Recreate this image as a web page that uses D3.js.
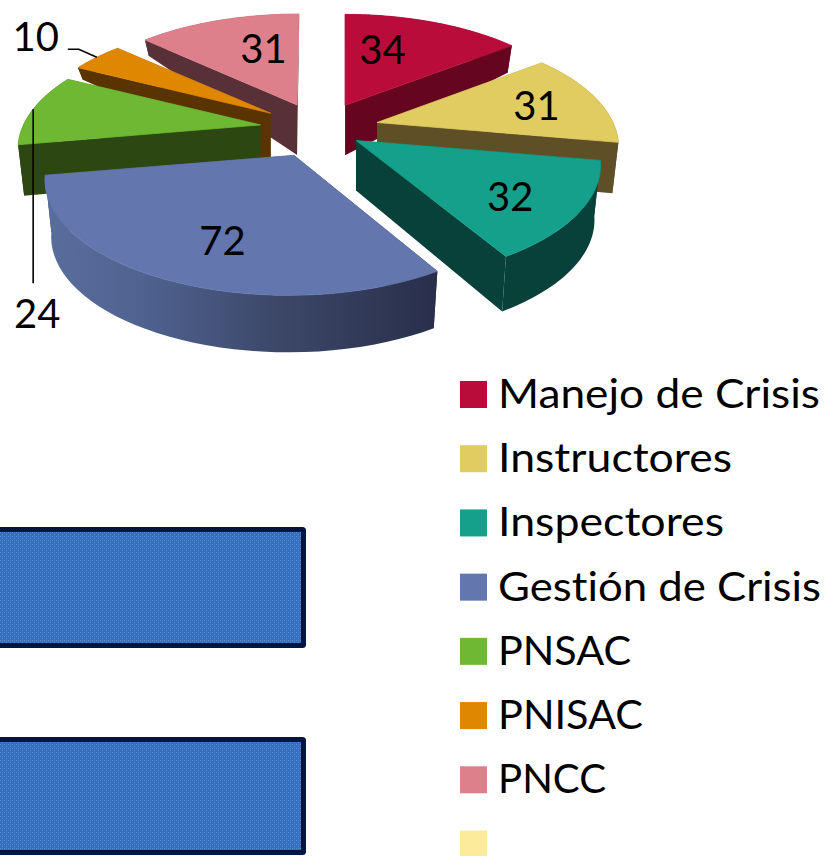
<!DOCTYPE html>
<html>
<head>
<meta charset="utf-8">
<script src="https://cdnjs.cloudflare.com/ajax/libs/d3/7.8.5/d3.min.js"></script>
<style>
html, body { margin: 0; padding: 0; background: #fff; overflow: hidden; }
text { font-family: Lato, "Open Sans", sans-serif; fill: #000; font-variant-ligatures: none; }
</style>
</head>
<body>
<div id="chart"></div>
<script>
// values
const categories = ["Manejo de Crisis", "Instructores", "Inspectores", "Gestión de Crisis", "PNSAC", "PNISAC", "PNCC", ""];
const values = [34, 31, 32, 72, 24, 10, 31, 0];
const topColors = ["#b90c3b", "#e0cc60", "#14a08a", "#6377ae", "#6fb833", "#e08700", "#dd808c", "#fdeb9c"];
const sideColors = ["#66051f", "#5e4f27", "#07413a", "url(#wallGrad)", "#2c4712", "#5a3400", "#583038", "#000"];

// how far each slice is pulled out, wall height at the rim, sideways lean of the rim
const explode = [0.25, 0.25, 0.18, 0.25, 0.255, 0.26, 0.25, 0];
const rimDepth = [27, 51, 55, 57, 51, 12, 16, 0];
const lean = [0, -2, 1, -5.5, 1, 1, 2, 0];
const apexDepth = 50;

// label placement: radius along the mid angle + shift in px
const labelR = [0.6, 0.6, 0.6, 0.6, 1, 1, 0.6];
const labelShift = [[-19, -2], [26, -1], [27, 16], [-1, 18], [4, 205], [-61, -20], [17, -2]];

// the legend font is narrower than the original, so stretch to the measured widths
const legendWidths = [322, 234, 226, 323, 133, 145, 108, 0];

const w = 826, h = 856;
const cx = 320, cy = 129;
const rx = 238, ry = 110.3, persp = 0.212;

const svg = d3.select("#chart").append("svg")
  .attr("width", w)
  .attr("height", h)
  .style("display", "block");

const defs = svg.append("defs");

// shading on the big front wall
const grad = defs.append("linearGradient")
  .attr("id", "wallGrad")
  .attr("gradientUnits", "userSpaceOnUse")
  .attr("x1", 45).attr("x2", 435).attr("y1", 0).attr("y2", 0);
[["0", "#5a6e9e"], ["0.25", "#4f6290"], ["0.6", "#3c4768"], ["1", "#292f4b"]].forEach(s => {
  grad.append("stop").attr("offset", s[0]).attr("stop-color", s[1]);
});

// dithered fill of the two boxes
const pat = defs.append("pattern")
  .attr("id", "dither")
  .attr("patternUnits", "userSpaceOnUse")
  .attr("width", 4).attr("height", 4);
pat.append("rect").attr("width", 4).attr("height", 4).attr("fill", "#336fbc");
pat.append("rect").attr("x", 0).attr("y", 0).attr("width", 1).attr("height", 1).attr("fill", "#5c8fd2");
pat.append("rect").attr("x", 2).attr("y", 2).attr("width", 1).attr("height", 1).attr("fill", "#5c8fd2");
pat.append("rect").attr("x", 2).attr("y", 0).attr("width", 1).attr("height", 1).attr("fill", "#4a82c9");

// boxes behind, they run off the left and bottom edge
svg.selectAll("rect.box")
  .data([[527, 121], [737, 118]])
  .enter()
  .append("rect")
  .attr("class", "box")
  .attr("x", -10)
  .attr("y", d => d[0] + 2.5)
  .attr("width", 313.5)
  .attr("height", d => d[1] - 5)
  .attr("rx", 1)
  .attr("fill", "url(#dither)")
  .attr("stroke", "#00153f")
  .attr("stroke-width", 5);

// angle (clockwise from top) and radius to screen offset, with perspective
function project(a, r) {
  const X = r * Math.sin(a);
  const Y = -r * Math.cos(a);
  const f = 1 / (1 - persp * Y);
  return [rx * X * f, ry * Y * f];
}

const pie = d3.pie().sort(null).value(d => d).startAngle(0).endAngle(2 * Math.PI);
const arcs = pie(values).map((d, i) => {
  const mid = (d.startAngle + d.endAngle) / 2;
  const off = project(mid, explode[i]);
  return { i, mid, start: d.startAngle, end: d.endAngle, value: d.value, ax: cx + off[0], ay: cy + off[1] };
});

const line = d3.line();

function topPt(s, a, r) {
  const p = project(a, r);
  return [s.ax + p[0] + lean[s.i] * r, s.ay + p[1]];
}
function lowPt(s, a, r) {
  const p = project(a, r);
  return [s.ax + (p[0] + lean[s.i] * r) * 0.975, s.ay + p[1] + apexDepth + (rimDepth[s.i] - apexDepth) * r];
}
function rimAngles(s) {
  return d3.range(0, 41).map(k => s.start + (s.end - s.start) * k / 40);
}

// back slices first
const drawOrder = [0, 6, 5, 4, 1, 2, 3];
const pieG = svg.append("g");

drawOrder.forEach(i => {
  const s = arcs[i];
  const rim = rimAngles(s);
  const g = pieG.append("g");
  const side = sideColors[i];
  const cutColor = i === 3 ? "#292f4b" : side;

  // cut walls
  [s.start, s.end].forEach(a => {
    g.append("path")
      .attr("d", line([topPt(s, a, 0), topPt(s, a, 1), lowPt(s, a, 1), lowPt(s, a, 0)]) + "Z")
      .attr("fill", cutColor);
  });
  // outer wall
  const wall = rim.map(a => topPt(s, a, 1)).concat(rim.slice().reverse().map(a => lowPt(s, a, 1)));
  g.append("path")
    .attr("d", line(wall) + "Z")
    .attr("fill", side);
  // top face, with a hair of its own colour so no wall edge peeks out at the rim
  const face = [topPt(s, s.start, 0)].concat(rim.map(a => topPt(s, a, 1)));
  g.append("path")
    .attr("d", line(face) + "Z")
    .attr("fill", topColors[i])
    .attr("stroke", topColors[i])
    .attr("stroke-width", 0.8);
});

// leader lines of the two outside labels
const leaders = [[4, [[0, 174]]], [5, [[-18, -8], [-29, -8]]]];
leaders.forEach(l => {
  const s = arcs[l[0]];
  const p0 = topPt(s, s.mid, 1);
  svg.append("path")
    .attr("d", line([p0].concat(l[1].map(o => [p0[0] + o[0], p0[1] + o[1]]))))
    .attr("fill", "none")
    .attr("stroke", "#000")
    .attr("stroke-width", 1.6);
});

// data labels
svg.selectAll("text.val")
  .data(arcs.filter(d => d.value > 0))
  .enter()
  .append("text")
  .attr("class", "val")
  .attr("x", d => topPt(d, d.mid, labelR[d.i])[0] + labelShift[d.i][0])
  .attr("y", d => topPt(d, d.mid, labelR[d.i])[1] + labelShift[d.i][1])
  .attr("dy", "0.35em")
  .attr("text-anchor", "middle")
  .attr("font-size", 40)
  .text(d => d.value);

// legend
const legendY = d3.scalePoint().domain(d3.range(categories.length)).range([394.5, 844]);
const legend = svg.selectAll("g.leg")
  .data(categories)
  .enter()
  .append("g")
  .attr("class", "leg")
  .attr("transform", (d, i) => "translate(460," + legendY(i) + ")");
legend.append("rect")
  .attr("x", 0).attr("y", -13.5)
  .attr("width", 27).attr("height", 27)
  .attr("fill", (d, i) => topColors[i]);
legend.filter(d => d !== "").append("text")
  .attr("x", 38)
  .attr("dy", "0.33em")
  .attr("font-size", 41)
  .attr("textLength", (d, i) => legendWidths[i])
  .attr("lengthAdjust", "spacingAndGlyphs")
  .text(d => d);
</script>
</body>
</html>
